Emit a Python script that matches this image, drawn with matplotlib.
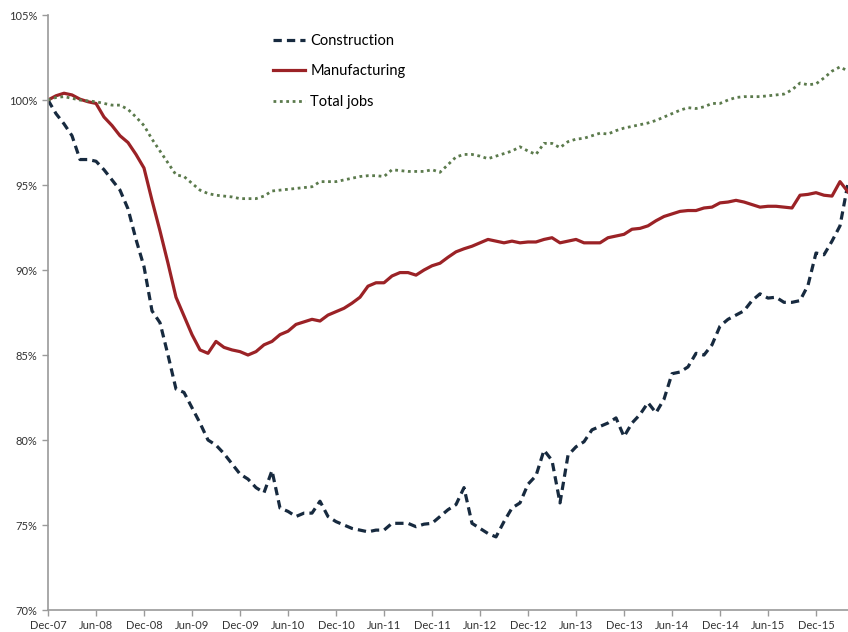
import matplotlib.pyplot as plt

# months since Dec-07
months = list(range(101))
tick_labels = ['Dec-07', 'Jun-08', 'Dec-08', 'Jun-09', 'Dec-09', 'Jun-10', 'Dec-10', 'Jun-11',
               'Dec-11', 'Jun-12', 'Dec-12', 'Jun-13', 'Dec-13', 'Jun-14', 'Dec-14', 'Jun-15', 'Dec-15']

construction = [100, 99.2, 98.6, 97.9, 96.5, 96.5, 96.4, 95.9, 95.3, 94.7,
                93.6, 91.8, 90.2, 87.6, 86.9, 85.0, 83.0, 82.8, 81.9, 81.0,
                80.0, 79.7, 79.2, 78.6, 78.0, 77.7, 77.2, 76.9, 78.2, 76.0,
                75.8, 75.5, 75.7, 75.7, 76.4, 75.5, 75.2, 75.0, 74.8, 74.7,
                74.6, 74.7, 74.7, 75.1, 75.1, 75.1, 74.9, 75.05, 75.1, 75.5,
                75.9, 76.2, 77.2, 75.1, 74.8, 74.5, 74.3, 75.2, 76.0, 76.3,
                77.4, 77.9, 79.4, 78.8, 76.3, 79.1, 79.6, 79.9, 80.6, 80.8,
                81.0, 81.3, 80.2, 81.0, 81.5, 82.2, 81.6, 82.4, 83.9, 84.0,
                84.3, 85.1, 85.0, 85.6, 86.7, 87.1, 87.35, 87.6, 88.2, 88.6,
                88.35, 88.4, 88.1, 88.1, 88.2, 89.1, 91.0, 90.9, 91.7, 92.6,
                95.1]

manufacturing = [100, 100.25, 100.4, 100.3, 100.05, 99.9, 99.8, 99.0, 98.5, 97.9,
                 97.5, 96.8, 96.0, 94.1, 92.3, 90.4, 88.4, 87.3, 86.2, 85.3,
                 85.1, 85.8, 85.45, 85.3, 85.2, 85.0, 85.2, 85.6, 85.8, 86.2,
                 86.4, 86.8, 86.95, 87.1, 87.0, 87.35, 87.55, 87.75, 88.05, 88.4,
                 89.05, 89.25, 89.25, 89.65, 89.85, 89.85, 89.7, 90.0, 90.25, 90.4,
                 90.75, 91.07, 91.25, 91.4, 91.6, 91.8, 91.7, 91.6, 91.7, 91.6,
                 91.65, 91.65, 91.8, 91.9, 91.6, 91.7, 91.8, 91.6, 91.6, 91.6,
                 91.9, 92.0, 92.1, 92.4, 92.45, 92.6, 92.9, 93.15, 93.3, 93.45,
                 93.5, 93.5, 93.65, 93.7, 93.95, 94.0, 94.1, 94.0, 93.85, 93.7,
                 93.75, 93.75, 93.7, 93.65, 94.4, 94.45, 94.55, 94.4, 94.35, 95.2,
                 94.6]

total_jobs = [100, 100.15, 100.2, 100.1, 100.0, 99.95, 99.9, 99.8, 99.7, 99.7,
              99.45, 99.0, 98.5, 97.7, 97.0, 96.3, 95.6, 95.5, 95.1, 94.7,
              94.5, 94.4, 94.35, 94.3, 94.2, 94.2, 94.2, 94.35, 94.65, 94.7,
              94.75, 94.8, 94.85, 94.9, 95.2, 95.2, 95.2, 95.3, 95.4, 95.5,
              95.55, 95.55, 95.5, 95.9, 95.85, 95.8, 95.8, 95.8, 95.9, 95.75,
              96.2, 96.65, 96.8, 96.8, 96.7, 96.55, 96.7, 96.85, 97.0, 97.25,
              97.0, 96.8, 97.45, 97.45, 97.2, 97.55, 97.7, 97.75, 97.9, 98.05,
              98.0, 98.2, 98.35, 98.45, 98.55, 98.65, 98.8, 99.0, 99.2, 99.4,
              99.55, 99.5, 99.6, 99.8, 99.8, 100.0, 100.15, 100.2, 100.2, 100.2,
              100.25, 100.3, 100.35, 100.6, 101.0, 100.9, 100.95, 101.3, 101.7, 101.95,
              101.7]

plt.rcParams['font.family'] = ['Lato', 'DejaVu Sans']

fig = plt.figure(figsize=(8.48, 6.32), dpi=100)
ax = fig.add_axes([0.0566, 0.0348, 0.9434, 0.9414])

ax.plot(months, construction, color='#172a3f', lw=2.3, linestyle=(0, (2.6, 1.6)), label='Construction')
ax.plot(months, manufacturing, color='#9b2226', lw=2.3, label='Manufacturing')
ax.plot(months, total_jobs, color='#5b7a4c', lw=2.0, linestyle=(0, (1, 1.3)), label='Total jobs')

ax.set_xlim(0, 100)
ax.set_ylim(70, 105)
ax.set_xticks(range(0, 97, 6))
ax.set_xticklabels(tick_labels)
ax.set_yticks(range(70, 106, 5))
ax.set_yticklabels([f'{v}%' for v in range(70, 106, 5)])

for s in ['top', 'right']:
    ax.spines[s].set_visible(False)
for s in ['left', 'bottom']:
    ax.spines[s].set_color('#9a9a9a')
    ax.spines[s].set_linewidth(1.2)
ax.tick_params(colors='#9a9a9a', labelcolor='#333333', labelsize=8, length=4, width=1)

leg = ax.legend(loc='upper left', bbox_to_anchor=(0.265, 0.99), frameon=False,
                fontsize=10.5, handlelength=2.2, handletextpad=0.35, labelspacing=1.12)

fig.savefig('out.png', dpi=100)
